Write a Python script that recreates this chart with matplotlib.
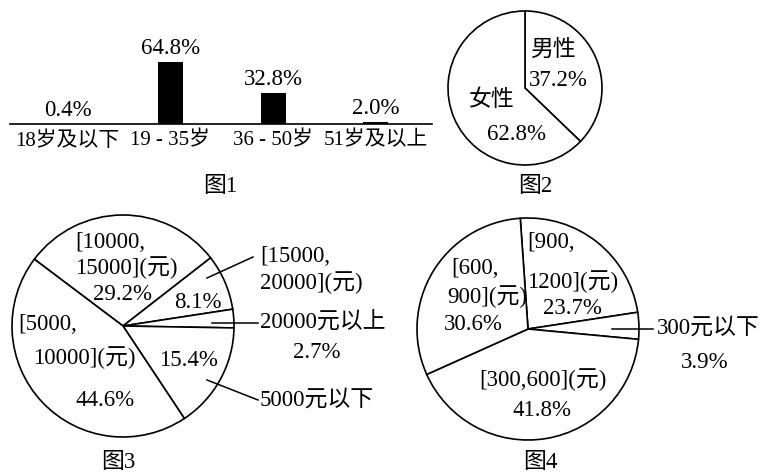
import matplotlib
matplotlib.use('Agg')
import matplotlib.pyplot as plt

plt.rcParams['font.family'] = ['Liberation Serif', 'Noto Sans CJK SC']
plt.rcParams['font.size'] = 16.5

W, H = 768, 476

# 图1 age groups
age_groups = ['18岁及以下', '19 - 35岁', '36 - 50岁', '51岁及以上']
age_share = [0.4, 64.8, 32.8, 2.0]

# 图2 gender
gender_labels = ['男性', '女性']
gender_share = [37.2, 62.8]

# 图3 income
income_labels = ['[10000,\n15000](元)', '[15000,\n20000](元)', '20000元以上',
                 '5000元以下', '[5000,\n10000](元)']
income_share = [29.2, 8.1, 2.7, 15.4, 44.6]

# 图4 spending
spend_labels = ['[900,\n1200](元)', '300元以下', '[300,600](元)', '[600,\n900](元)']
spend_share = [23.7, 3.9, 41.8, 30.6]

captions = ['图1', '图2', '图3', '图4']

fig = plt.figure(figsize=(W / 100, H / 100), dpi=100)


def px_axes(x, y, w, h):
    # axes placed in pixel coords (top-left origin)
    return fig.add_axes([x / W, 1 - (y + h) / H, w / W, h / H])


def pie_at(cx, cy, r, vals, start):
    ax = px_axes(cx - r, cy - r, 2 * r, 2 * r)
    ax.pie(vals, startangle=start, counterclock=False, colors=['white'] * len(vals),
           wedgeprops=dict(edgecolor='black', linewidth=1.2, clip_on=False))
    ax.set_xlim(-1, 1)
    ax.set_ylim(-1, 1)
    return ax


# ---- 图1 bars ----
ax1 = px_axes(10, 54, 422, 70)
bars = ax1.bar(range(len(age_share)), age_share, width=0.243, color='black')
ax1.bar_label(bars, fmt='{:.1f}%', padding=2)
ax1.set_xlim(-0.559, 3.546)
ax1.set_ylim(0, 73.1)
ax1.set_xticks(range(len(age_groups)))
ax1.set_xticklabels(age_groups, fontsize=15)
ax1.set_yticks([])
for s in ['top', 'left', 'right']:
    ax1.spines[s].set_visible(False)
ax1.spines['bottom'].set_linewidth(1.2)
ax1.tick_params(axis='x', length=0, pad=5)

# ---- pies ----
pie_at(525, 88, 77, gender_share, 90)
pie_at(123, 326, 111, income_share, 143)
pie_at(528, 329, 111, spend_share, 94)

# overlay for labels and leader lines, pixel coords
ov = fig.add_axes([0, 0, 1, 1])
ov.set_xlim(0, W)
ov.set_ylim(H, 0)
ov.axis('off')


def put(lines_pos, label, share):
    lines = label.split('\n') + ['{:.1f}%'.format(share)]
    for line, (x, y, ha) in zip(lines, lines_pos):
        ov.text(x, y, line, ha=ha, va='center')


gender_pos = [
    [(553, 50, 'center'), (558, 80, 'center')],
    [(492, 100, 'center'), (517, 135, 'center')],
]
for lab, val, pos in zip(gender_labels, gender_share, gender_pos):
    put(pos, lab, val)

income_pos = [
    [(75, 242, 'left'), (75, 268, 'left'), (123, 295, 'center')],
    [(260, 257, 'left'), (260, 283, 'left'), (198, 303, 'center')],
    [(260, 323, 'left'), (317, 353, 'center')],
    [(260, 400, 'left'), (188, 360, 'center')],
    [(48, 325, 'center'), (84, 358, 'center'), (105, 400, 'center')],
]
for lab, val, pos in zip(income_labels, income_share, income_pos):
    put(pos, lab, val)

spend_pos = [
    [(527, 243, 'left'), (527, 282, 'left'), (572, 308, 'center')],
    [(657, 328, 'left'), (705, 362, 'center')],
    [(543, 380, 'center'), (542, 410, 'center')],
    [(475, 268, 'center'), (487, 297, 'center'), (473, 325, 'center')],
]
for lab, val, pos in zip(spend_labels, spend_share, spend_pos):
    put(pos, lab, val)

# leader lines
leaders = [((207, 253), (278, 257)), ((212, 258), (323, 323)),
           ((207, 258), (380, 400)), ((612, 653), (329, 329))]
for xs, ys in leaders:
    ov.plot(xs, ys, color='black', lw=1.1)

cap_pos = [(220, 187), (535, 187), (118, 463), (540, 463)]
for c, (x, y) in zip(captions, cap_pos):
    ov.text(x, y, c, ha='center', va='center')

fig.savefig('out.png', dpi=100, facecolor='white')
